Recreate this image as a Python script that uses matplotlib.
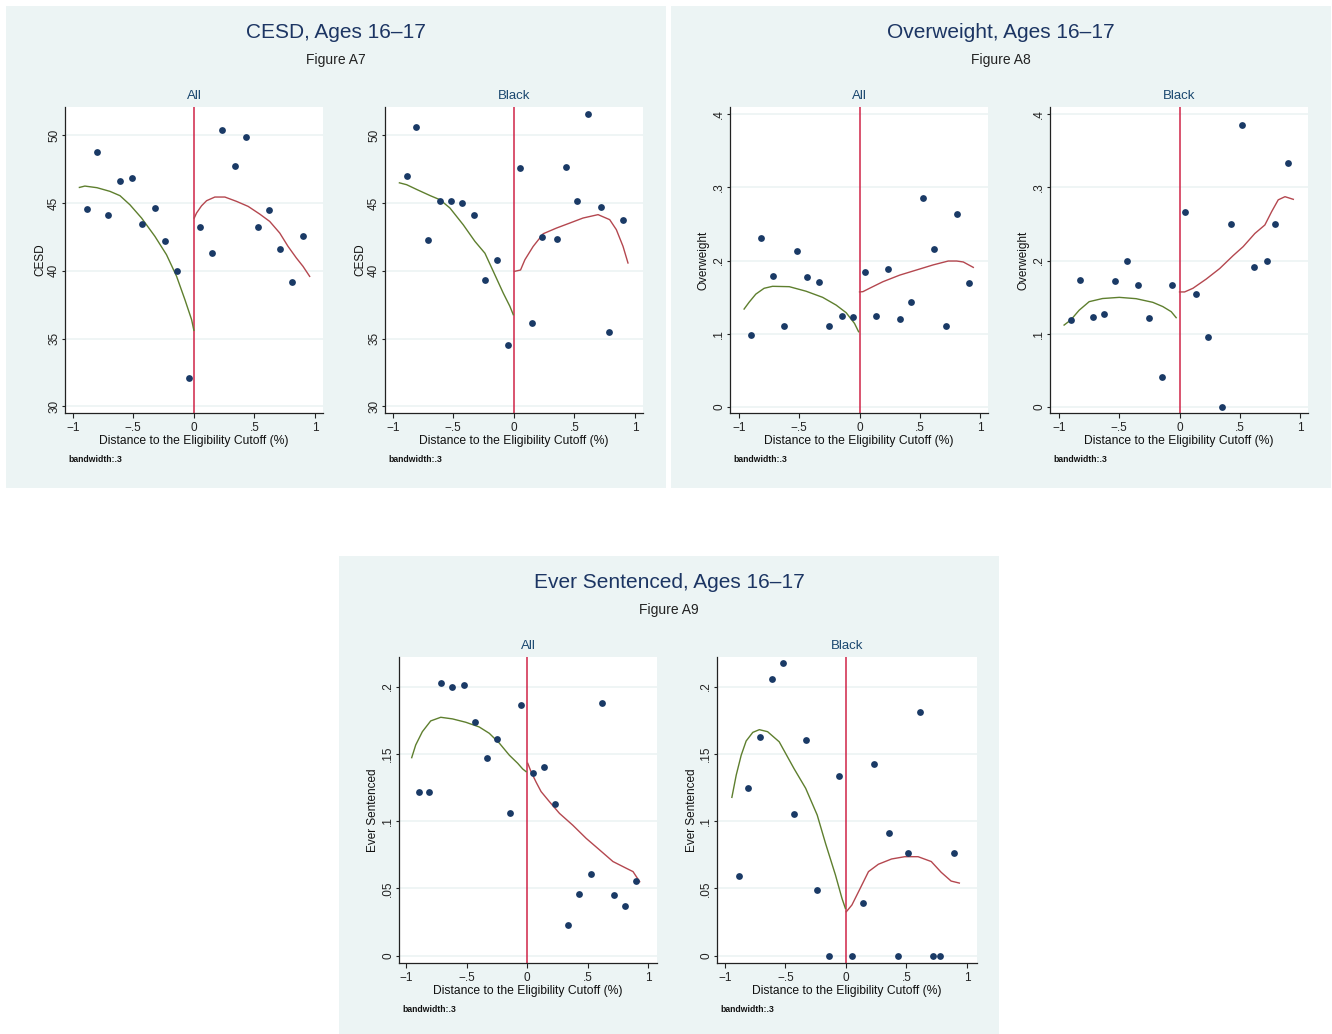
import matplotlib.pyplot as plt
from matplotlib.patches import Rectangle

plt.rcParams['font.family'] = ['Liberation Sans', 'DejaVu Sans']

W, H = 1332, 1034
BG = '#ECF4F4'
NAVY = '#1A476F'
DOT = '#1A3A66'
VLINE = '#D02448'
LEFT_FIT = '#5E7F2E'
RIGHT_FIT = '#B4474F'

# ---- CESD ----
cesd_all_x = [-0.885, -0.80, -0.706, -0.613, -0.508, -0.426, -0.324, -0.239, -0.137, -0.041,
              0.052, 0.146, 0.236, 0.341, 0.434, 0.527, 0.621, 0.714, 0.810, 0.901]
cesd_all_y = [44.56, 48.75, 44.15, 46.65, 46.83, 43.48, 44.64, 42.23, 39.96, 32.12,
              43.23, 41.32, 50.42, 47.76, 49.85, 43.23, 44.49, 41.64, 39.15, 42.57]
cesd_all_lx = [-0.945, -0.90, -0.80, -0.693, -0.61, -0.528, -0.432, -0.322, -0.226, -0.143, -0.074, -0.019, 0.0]
cesd_all_ly = [46.16, 46.26, 46.14, 45.87, 45.55, 44.88, 43.9, 42.55, 41.19, 39.6, 37.87, 36.4, 35.6]
cesd_all_rx = [0.003, 0.022, 0.063, 0.105, 0.173, 0.256, 0.352, 0.448, 0.544, 0.626, 0.709, 0.777, 0.846, 0.901, 0.956]
cesd_all_ry = [43.9, 44.27, 44.8, 45.18, 45.45, 45.45, 45.13, 44.76, 44.19, 43.65, 42.79, 41.81, 40.95, 40.33, 39.59]

cesd_blk_x = [-0.885, -0.811, -0.706, -0.613, -0.522, -0.426, -0.332, -0.239, -0.137, -0.052,
              0.049, 0.146, 0.236, 0.357, 0.434, 0.517, 0.615, 0.720, 0.788, 0.901]
cesd_blk_y = [47.0, 50.59, 42.3, 45.15, 45.15, 44.98, 44.15, 39.3, 40.8, 34.53,
              47.56, 36.13, 42.47, 42.37, 47.66, 45.15, 51.6, 44.74, 35.45, 43.72]
cesd_blk_lx = [-0.945, -0.885, -0.80, -0.69, -0.61, -0.528, -0.418, -0.322, -0.239, -0.17, -0.088, -0.033, -0.005]
cesd_blk_ly = [46.5, 46.36, 46.0, 45.55, 45.25, 44.64, 43.4, 42.18, 41.3, 39.96, 38.36, 37.38, 36.76]
cesd_blk_rx = [0.005, 0.055, 0.091, 0.159, 0.242, 0.352, 0.462, 0.571, 0.695, 0.791, 0.846, 0.901, 0.942]
cesd_blk_ry = [39.96, 40.06, 40.82, 41.8, 42.74, 43.16, 43.53, 43.9, 44.15, 43.78, 43.04, 41.81, 40.58]

# ---- Overweight ----
ow_all_x = [-0.90, -0.817, -0.722, -0.628, -0.522, -0.439, -0.333, -0.25, -0.144, -0.053,
            0.044, 0.139, 0.233, 0.336, 0.43, 0.525, 0.619, 0.714, 0.806, 0.906]
ow_all_y = [0.0976, 0.231, 0.179, 0.110, 0.2125, 0.177, 0.1706, 0.110, 0.124, 0.1227,
            0.1847, 0.124, 0.188, 0.1195, 0.1428, 0.2855, 0.216, 0.110, 0.2636, 0.169]
ow_all_lx = [-0.958, -0.917, -0.861, -0.792, -0.722, -0.583, -0.444, -0.306, -0.194, -0.111, -0.042, -0.008]
ow_all_ly = [0.1336, 0.1428, 0.154, 0.162, 0.1647, 0.1642, 0.158, 0.1496, 0.139, 0.1286, 0.114, 0.1026]
ow_all_rx = [0.0, 0.028, 0.083, 0.194, 0.333, 0.472, 0.611, 0.736, 0.806, 0.861, 0.944]
ow_all_ry = [0.157, 0.1574, 0.162, 0.171, 0.180, 0.187, 0.194, 0.1993, 0.1993, 0.198, 0.1906]

ow_blk_x = [-0.90, -0.828, -0.722, -0.628, -0.533, -0.439, -0.344, -0.25, -0.144, -0.061,
            0.042, 0.139, 0.233, 0.353, 0.428, 0.517, 0.619, 0.722, 0.789, 0.903]
ow_blk_y = [0.118, 0.174, 0.1227, 0.127, 0.1724, 0.200, 0.166, 0.121, 0.0406, 0.166,
            0.2668, 0.1537, 0.0949, 0.0, 0.25, 0.385, 0.191, 0.200, 0.25, 0.334]
ow_blk_lx = [-0.958, -0.903, -0.833, -0.75, -0.639, -0.5, -0.361, -0.222, -0.139, -0.069, -0.028]
ow_blk_ly = [0.1117, 0.1186, 0.132, 0.1437, 0.148, 0.1496, 0.1478, 0.1428, 0.137, 0.130, 0.1218]
ow_blk_rx = [0.0, 0.042, 0.111, 0.222, 0.333, 0.444, 0.528, 0.625, 0.708, 0.764, 0.819, 0.875, 0.944]
ow_blk_ry = [0.157, 0.157, 0.162, 0.1747, 0.189, 0.2066, 0.219, 0.237, 0.2486, 0.2668, 0.283, 0.2873, 0.2837]

# ---- Ever Sentenced ----
es_all_x = [-0.892, -0.809, -0.715, -0.619, -0.517, -0.431, -0.329, -0.246, -0.141, -0.047,
            0.047, 0.141, 0.235, 0.34, 0.431, 0.525, 0.622, 0.715, 0.809, 0.90]
es_all_y = [0.1214, 0.1214, 0.2025, 0.200, 0.2015, 0.1737, 0.147, 0.161, 0.1063, 0.1864,
            0.1358, 0.140, 0.113, 0.0228, 0.0456, 0.0607, 0.188, 0.0449, 0.0372, 0.0555]
es_all_lx = [-0.953, -0.92, -0.865, -0.796, -0.713, -0.616, -0.506, -0.395, -0.312, -0.229, -0.146, -0.077, -0.036, -0.008]
es_all_ly = [0.1472, 0.1566, 0.1665, 0.1745, 0.1772, 0.176, 0.1735, 0.170, 0.1653, 0.158, 0.149, 0.143, 0.1388, 0.1368]
es_all_rx = [0.006, 0.033, 0.075, 0.116, 0.185, 0.268, 0.378, 0.489, 0.60, 0.71, 0.82, 0.876, 0.931]
es_all_ry = [0.143, 0.1368, 0.129, 0.122, 0.1145, 0.1058, 0.097, 0.0872, 0.0786, 0.070, 0.065, 0.0625, 0.055]

es_blk_x = [-0.883, -0.809, -0.708, -0.612, -0.522, -0.429, -0.333, -0.24, -0.139, -0.055,
            0.046, 0.139, 0.235, 0.352, 0.429, 0.511, 0.615, 0.716, 0.781, 0.893]
es_blk_y = [0.059, 0.1249, 0.1626, 0.206, 0.2176, 0.1053, 0.160, 0.0488, 0.0, 0.1333,
            0.0, 0.0389, 0.1425, 0.091, 0.0, 0.0766, 0.1812, 0.0, 0.0, 0.0766]
es_blk_lx = [-0.943, -0.907, -0.866, -0.825, -0.77, -0.716, -0.648, -0.552, -0.429, -0.333, -0.238, -0.169, -0.087, -0.033, -0.005]
es_blk_ly = [0.1177, 0.1343, 0.149, 0.1596, 0.166, 0.168, 0.1665, 0.159, 0.139, 0.1244, 0.1046, 0.0835, 0.06, 0.0426, 0.0352]
es_blk_rx = [0.003, 0.049, 0.104, 0.186, 0.268, 0.377, 0.486, 0.596, 0.705, 0.787, 0.869, 0.937]
es_blk_ry = [0.0327, 0.0377, 0.0476, 0.0625, 0.068, 0.0719, 0.0736, 0.0736, 0.070, 0.062, 0.0555, 0.054]

x_ticks = [-1, -0.5, 0, 0.5, 1]
x_labels = ['\u22121', '\u2212.5', '0', '.5', '1']
cesd_ticks = [30, 35, 40, 45, 50]
cesd_labels = ['30', '35', '40', '45', '50']
ow_ticks = [0, 0.1, 0.2, 0.3, 0.4]
ow_labels = ['0', '.1', '.2', '.3', '.4']
es_ticks = [0, 0.05, 0.1, 0.15, 0.2]
es_labels = ['0', '.05', '.1', '.15', '.2']

fig = plt.figure(figsize=(W / 100, H / 100), dpi=100)


def px_rect(x0, y0, x1, y1):
    return [x0 / W, 1 - y1 / H, (x1 - x0) / W, (y1 - y0) / H]


def ftext(x, y, s, **kw):
    fig.text(x / W, 1 - y / H, s, **kw)


# light graph regions behind each figure
for x0, y0, x1, y1 in [(6, 6, 666, 488), (671, 6, 1331, 488), (339, 556, 999, 1034)]:
    fig.patches.append(Rectangle((x0 / W, 1 - y1 / H), (x1 - x0) / W, (y1 - y0) / H,
                                 transform=fig.transFigure, facecolor=BG, edgecolor='none', zorder=-10))


def panel(rect, xlim, ylim, yt, ytl, px, py, lx, ly, rx, ry, sub, ylab, ylab_x):
    x0, y0, x1, y1 = rect
    ax = fig.add_axes(px_rect(x0, y0, x1, y1))
    ax.set_facecolor('white')
    ax.set_xlim(*xlim)
    ax.set_ylim(*ylim)
    ax.set_xticks(x_ticks)
    ax.set_xticklabels(x_labels)
    ax.set_yticks(yt)
    ax.set_yticklabels(ytl, rotation=90, va='center')
    ax.tick_params(direction='out', width=0.8, labelsize=8.5, colors='#222222')
    ax.tick_params(axis='x', length=3.5, pad=3)
    ax.tick_params(axis='y', length=2.5, pad=1)
    for s in ['top', 'right']:
        ax.spines[s].set_visible(False)
    for s in ['left', 'bottom']:
        ax.spines[s].set_color('#222222')
        ax.spines[s].set_linewidth(0.9)
    ax.yaxis.grid(True, color=BG, lw=1.2)
    ax.set_axisbelow(True)
    ax.axvline(0, color=VLINE, lw=1.1, zorder=2)
    ax.plot(lx, ly, color=LEFT_FIT, lw=1.0, zorder=3)
    ax.plot(rx, ry, color=RIGHT_FIT, lw=1.0, zorder=3)
    ax.scatter(px, py, s=24, color=DOT, zorder=4, linewidths=0, clip_on=False)
    cx = (x0 + x1) / 2
    ftext(cx, y0 - 11, sub, ha='center', va='center', fontsize=9.5, color=NAVY)
    ftext(cx, y1 + 28, 'Distance to the Eligibility Cutoff (%)', ha='center', va='center',
          fontsize=8.7, color='#111111')
    ftext(x0 + 3, y1 + 46, 'bandwidth:.3', ha='left', va='center', fontsize=6.2,
          fontweight='bold', color='#111111')
    ftext(ylab_x, (y0 + y1) / 2, ylab, ha='center', va='center', rotation=90,
          fontsize=8.5, color='#111111')
    return ax


cesd_ylim = (29.5, 52.1)
panel((65, 107, 323, 413), (-1.064, 1.066), cesd_ylim, cesd_ticks, cesd_labels,
      cesd_all_x, cesd_all_y, cesd_all_lx, cesd_all_ly, cesd_all_rx, cesd_all_ry, 'All', 'CESD', 40)
panel((385, 107, 643, 413), (-1.064, 1.066), cesd_ylim, cesd_ticks, cesd_labels,
      cesd_blk_x, cesd_blk_y, cesd_blk_lx, cesd_blk_ly, cesd_blk_rx, cesd_blk_ry, 'Black', 'CESD', 360)

ow_ylim = (-0.0086, 0.41)
panel((730, 107, 988, 413), (-1.075, 1.066), ow_ylim, ow_ticks, ow_labels,
      ow_all_x, ow_all_y, ow_all_lx, ow_all_ly, ow_all_rx, ow_all_ry, 'All', 'Overweight', 703)
panel((1050, 107, 1308, 413), (-1.075, 1.066), ow_ylim, ow_ticks, ow_labels,
      ow_blk_x, ow_blk_y, ow_blk_lx, ow_blk_ly, ow_blk_rx, ow_blk_ry, 'Black', 'Overweight', 1023)

es_ylim = (-0.0054, 0.222)
panel((399, 657, 657, 963), (-1.058, 1.074), es_ylim, es_ticks, es_labels,
      es_all_x, es_all_y, es_all_lx, es_all_ly, es_all_rx, es_all_ry, 'All', 'Ever Sentenced', 373)
panel((717, 657, 977, 963), (-1.066, 1.083), es_ylim, es_ticks, es_labels,
      es_blk_x, es_blk_y, es_blk_lx, es_blk_ly, es_blk_rx, es_blk_ry, 'Black', 'Ever Sentenced', 692)

# figure headings
for cx, top, title, sub in [(336, 6, 'CESD, Ages 16\u201317', 'Figure A7'),
                            (1001, 6, 'Overweight, Ages 16\u201317', 'Figure A8'),
                            (669, 556, 'Ever Sentenced, Ages 16\u201317', 'Figure A9')]:
    ftext(cx, top + 26, title, ha='center', va='center', fontsize=15, color='#1C3563')
    ftext(cx, top + 54, sub, ha='center', va='center', fontsize=10, color='#222222')

fig.savefig('out.png', dpi=100, facecolor='white')
